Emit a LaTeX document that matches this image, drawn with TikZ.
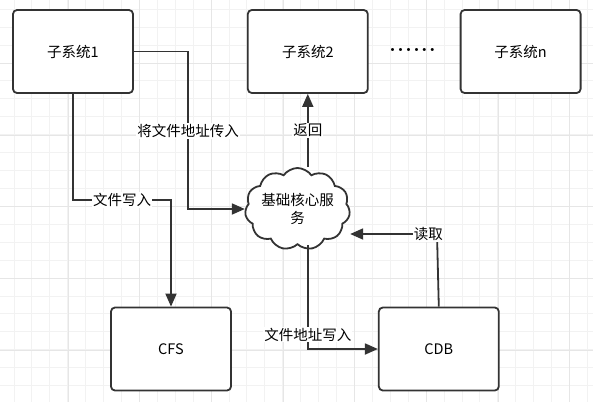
\documentclass[tikz,border=0pt]{standalone}
\usepackage{fontspec}
\setmainfont{Noto Sans CJK SC}
\usetikzlibrary{positioning, arrows.meta, shapes.symbols}
\definecolor{edgegray}{HTML}{333333}
\definecolor{gridminor}{HTML}{F2F2F2}
\definecolor{gridmajor}{HTML}{E6E6E6}

\begin{document}
\begin{tikzpicture}[x=1pt, y=-1pt, > = {Triangle[length=13pt, width=11pt]},
    box/.style = {draw=edgegray, line width=1.8pt, rounded corners=4pt, fill=white,
      minimum width=120pt, minimum height=83pt},
    lbl/.style = {fill=white, inner sep=1pt},
    flow/.style = {->, draw=edgegray, line width=1.8pt},
    font = \fontsize{14.5}{18}\selectfont]
    \useasboundingbox[fill=white] (0,0) rectangle (593,402);
    % grid
    \foreach \i in {0,...,32}
      \draw[gridminor, line width=1pt] ({14+17.92*\i},0) -- ({14+17.92*\i},402);
    \foreach \i in {0,...,22}
      \draw[gridminor, line width=1pt] (0,{9.3+17.92*\i}) -- (593,{9.3+17.92*\i});
    \foreach \i in {0,...,7}
      \draw[gridmajor, line width=1pt] ({68+71.68*\i},0) -- ({68+71.68*\i},402);
    \foreach \i in {0,...,4}
      \draw[gridmajor, line width=1pt] (0,{63.6+71.68*\i}) -- (593,{63.6+71.68*\i});

    % nodes
    \node[box] (sub1) at (73,51.5) {子系统1};
    \node[box] (sub2) [right=113pt of sub1] {子系统2};
    \node[box] (subn) [right=91pt of sub2] {子系统n};
    \node (more) at (412.5,51.5) {\addfontfeature{LetterSpace=-45}······};
    \node[cloud, draw=edgegray, line width=1.8pt, fill=white, cloud puffs=11,
      cloud puff arc=110, cloud ignores aspect, minimum width=105pt,
      minimum height=82pt, inner xsep=-6pt, inner ysep=0pt, align=center]
      (core) at (297.5,209) {基础核心服\\务};
    \node[box] (cfs) at (171,349) {CFS};
    \node[box] (cdb) [right=146pt of cfs] {CDB};

    \coordinate (c1) at (188,131);
    \coordinate (c2) at (122,200);
    \coordinate (c3) at (437,234);

    % connectors
    \draw[flow] (sub1.east) -| (c1) node[lbl] {将文件地址传入} |- (core.west);
    \draw[flow] (sub1.south) |- (c2) node[lbl] {文件写入} -| (cfs.north);
    \draw[flow] (core.north -| sub2.south) -- node[lbl] {返回} (sub2.south);
    \draw[flow] (core.south -| sub2.south) |- node[lbl, pos=0.43] {文件地址写入} (cdb.west);
    \draw[flow] (cdb.north) -- (c3) -- node[lbl, pos=0.1] {读取} (core.east |- c3);
\end{tikzpicture}
\end{document}
